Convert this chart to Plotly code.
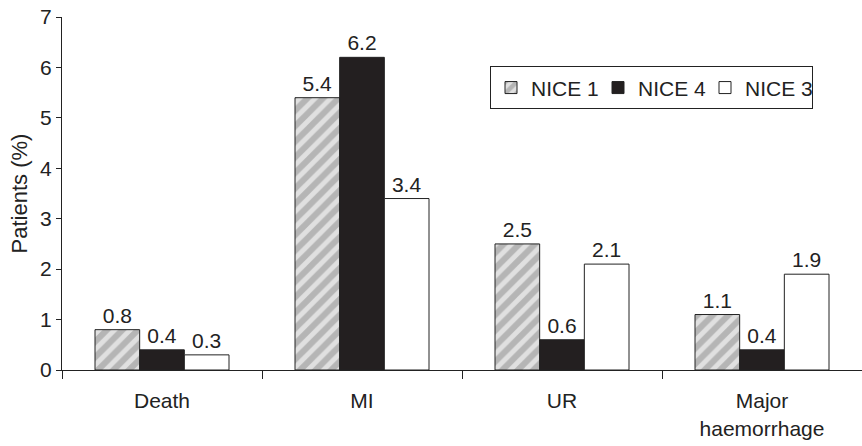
import plotly.graph_objects as go

categories = ["Death", "MI", "UR", "Major<br>haemorrhage"]
nice1 = [0.8, 5.4, 2.5, 1.1]
nice4 = [0.4, 6.2, 0.6, 0.4]
nice3 = [0.3, 3.4, 2.1, 1.9]
y_ticks = [0, 1, 2, 3, 4, 5, 6, 7]

FONT = "Liberation Sans, Arial, sans-serif"
INK = "#222222"

fig = go.Figure()

fig.add_trace(go.Bar(
    name="NICE 1", x=categories, y=nice1,
    text=[f"{v:.1f}" for v in nice1], textposition="outside",
    marker=dict(color="#e0e0e0", line=dict(color=INK, width=1),
                pattern=dict(shape="/", fgcolor="#8a8a8a", bgcolor="#e0e0e0",
                             size=11, solidity=0.55)),
))
fig.add_trace(go.Bar(
    name="NICE 4", x=categories, y=nice4,
    text=[f"{v:.1f}" for v in nice4], textposition="outside",
    marker=dict(color="#231f20", line=dict(color=INK, width=1)),
))
fig.add_trace(go.Bar(
    name="NICE 3", x=categories, y=nice3,
    text=[f"{v:.1f}" for v in nice3], textposition="outside",
    marker=dict(color="white", line=dict(color=INK, width=1)),
))

fig.update_traces(textfont=dict(size=21, color=INK, family=FONT), cliponaxis=False)

fig.update_layout(
    width=862, height=446,
    margin=dict(l=62, r=0, t=17, b=76),
    paper_bgcolor="white", plot_bgcolor="white",
    font=dict(family=FONT, color=INK, size=21),
    barmode="group", bargap=0.33, bargroupgap=0,
    showlegend=True,
    legend=dict(
        orientation="h", x=0.535, y=0.86, xanchor="left", yanchor="top",
        bordercolor=INK, borderwidth=1, bgcolor="white",
        font=dict(size=21, color=INK, family=FONT),
        itemwidth=30, entrywidth=62, entrywidthmode="pixels",
        traceorder="normal",
    ),
    xaxis=dict(
        showline=True, linecolor=INK, linewidth=1,
        ticks="outside", tickson="boundaries", ticklen=8, tickcolor=INK,
        tickfont=dict(size=21), showgrid=False, ticklabelstandoff=12,
    ),
    yaxis=dict(
        range=[0, 7], tickvals=y_ticks, ticktext=[str(t) for t in y_ticks],
        showline=True, linecolor=INK, linewidth=1,
        ticks="outside", ticklen=5, tickcolor=INK,
        tickfont=dict(size=21), showgrid=False, zeroline=False,
        title=dict(text="Patients (%)", font=dict(size=22), standoff=6),
    ),
)

fig.write_html("out.html")
